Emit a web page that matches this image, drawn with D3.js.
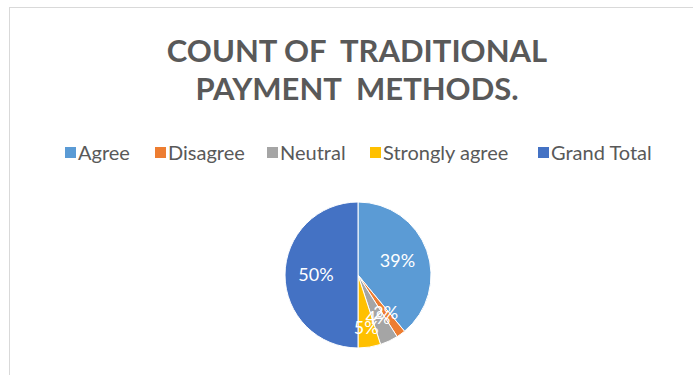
<!DOCTYPE html>
<html>
<head>
<meta charset="utf-8">
<script src="https://cdn.jsdelivr.net/npm/d3@7"></script>
<style>
  body { margin: 0; background: #fff; }
  text { font-family: Lato, "Open Sans", sans-serif; }
</style>
</head>
<body>
<div id="chart"></div>
<script>
// data
var categories = ["Agree", "Disagree", "Neutral", "Strongly agree", "Grand Total"];
var counts = [39, 2, 4, 5, 50];
var titleLines = ["COUNT OF  TRADITIONAL", "PAYMENT  METHODS."];

var colors = ["#5B9BD5", "#ED7D31", "#A5A5A5", "#FFC000", "#4472C4"];

var width = 693, height = 375;

var svg = d3.select("#chart")
  .append("svg")
    .attr("width", width)
    .attr("height", height);

// chart area frame (only top / left edges visible)
svg.append("rect")
  .attr("x", 9.5).attr("y", 7.5)
  .attr("width", 700).attr("height", 400)
  .attr("fill", "#fff")
  .attr("stroke", "#d9d9d9");

// title
svg.selectAll(".title")
  .data(titleLines)
  .enter()
  .append("text")
    .attr("class", "title")
    .attr("x", 357)
    .attr("y", function(d, i) { return 62 + i * 38; })
    .attr("text-anchor", "middle")
    .style("font-size", "31px")
    .style("font-weight", "bold")
    .style("fill", "#595959")
    .style("white-space", "pre")
    .text(function(d) { return d; });

// legend
var legendX = [65, 155, 267, 370, 538];
var legend = svg.selectAll(".legend")
  .data(categories)
  .enter()
  .append("g")
    .attr("class", "legend")
    .attr("transform", function(d, i) { return "translate(" + legendX[i] + ",153)"; });

legend.append("rect")
  .attr("x", 0).attr("y", -6)
  .attr("width", 11).attr("height", 11)
  .attr("fill", function(d, i) { return colors[i]; });

legend.append("text")
  .attr("x", 13)
  .attr("y", 7)
  .style("font-size", "20px")
  .style("fill", "#595959")
  .text(function(d) { return d; });

// pie
var cx = 358, cy = 275, r = 73;
var pie = d3.pie().sort(null).value(function(d) { return d; });
var arcs = pie(counts);
var total = d3.sum(counts);

var arc = d3.arc().innerRadius(0).outerRadius(r);
// Excel pushed the labels of the thin slices further out
var labelR = [42, 47, 47, 53, 42];

var g = svg.append("g").attr("transform", "translate(" + cx + "," + cy + ")");

g.selectAll("path")
  .data(arcs)
  .enter()
  .append("path")
    .attr("d", arc)
    .attr("fill", function(d, i) { return colors[i]; })
    .attr("stroke", "#fff")
    .attr("stroke-width", 1);

g.selectAll(".lbl")
  .data(arcs)
  .enter()
  .append("text")
    .attr("class", "lbl")
    .attr("transform", function(d, i) {
      var c = d3.arc().innerRadius(labelR[i]).outerRadius(labelR[i]).centroid(d);
      return "translate(" + c + ")";
    })
    .attr("text-anchor", "middle")
    .attr("dy", "0.35em")
    .style("font-size", "18px")
    .style("fill", "#fff")
    .text(function(d) { return Math.round(d.value / total * 100) + "%"; });
</script>
</body>
</html>
